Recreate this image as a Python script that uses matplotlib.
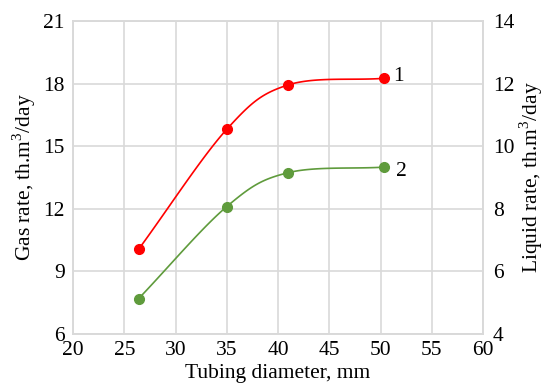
import numpy as np
import matplotlib
matplotlib.use("agg")
import matplotlib.pyplot as plt

plt.rcParams['font.family'] = ['Liberation Serif', 'DejaVu Serif']
plt.rcParams['mathtext.fontset'] = 'custom'
plt.rcParams['mathtext.rm'] = 'Liberation Serif'

# data
diameter = [26.4, 35.0, 40.95, 50.3]
gas_rate = [10.06, 15.81, 17.93, 18.25]      # curve 1, left axis
liquid_rate = [5.13, 8.07, 9.15, 9.33]       # curve 2, right axis
labels = ["1", "2"]


def smooth(x, y, n=40):
    # Catmull-Rom style smoothing, similar to Excel "smoothed line"
    x = np.asarray(x, float)
    y = np.asarray(y, float)
    px = np.concatenate([[2 * x[0] - x[1]], x, [2 * x[-1] - x[-2]]])
    py = np.concatenate([[2 * y[0] - y[1]], y, [2 * y[-1] - y[-2]]])
    xs, ys = [], []
    t = np.linspace(0, 1, n)
    for i in range(1, len(px) - 2):
        p0, p1, p2, p3 = px[i - 1], px[i], px[i + 1], px[i + 2]
        q0, q1, q2, q3 = py[i - 1], py[i], py[i + 1], py[i + 2]
        # cubic bezier control points
        c1x = p1 + (p2 - p0) / 6
        c2x = p2 - (p3 - p1) / 6
        c1y = q1 + (q2 - q0) / 6
        c2y = q2 - (q3 - q1) / 6
        bx = (1 - t) ** 3 * p1 + 3 * (1 - t) ** 2 * t * c1x + 3 * (1 - t) * t ** 2 * c2x + t ** 3 * p2
        by = (1 - t) ** 3 * q1 + 3 * (1 - t) ** 2 * t * c1y + 3 * (1 - t) * t ** 2 * c2y + t ** 3 * q2
        xs.extend(bx)
        ys.extend(by)
    return np.array(xs), np.array(ys)


fig = plt.figure(figsize=(5.47, 3.85), dpi=100)
ax = fig.add_axes([0.1335, 0.1325, 0.7495, 0.813])
ax2 = ax.twinx()

red = '#ff0000'
green = '#5f9b3c'
grid_c = '#d9d9d9'

sx, sy = smooth(diameter, gas_rate)
ax.plot(sx, sy, color=red, lw=1.2)
ax.plot(diameter, gas_rate, 'o', color=red, ms=7)

sx, sy = smooth(diameter, liquid_rate)
ax2.plot(sx, sy, color=green, lw=1.2)
ax2.plot(diameter, liquid_rate, 'o', color=green, ms=7)

ax.set_xlim(20, 60)
ax.set_ylim(6, 21)
ax2.set_ylim(4, 14)
ax.set_xticks(np.arange(20, 61, 5))
ax.set_yticks(np.arange(6, 22, 3))
ax2.set_yticks(np.arange(4, 15, 2))

ax.grid(True, color=grid_c, lw=1.2)
ax.set_axisbelow(True)
for a in (ax, ax2):
    for s in a.spines.values():
        s.set_color(grid_c)
        s.set_linewidth(1.2)
    a.tick_params(length=0, labelsize=15.5)

ax.tick_params(axis='x', pad=5)
ax.tick_params(axis='y', pad=6)
ax2.tick_params(axis='y', pad=7)

ax.set_xlabel("Tubing diameter, mm", fontsize=15.5, labelpad=3)
ax.set_ylabel("Gas rate, th.m$^3$/day", fontsize=15.5, labelpad=4)
ax2.set_ylabel("Liquid rate, th.m$^3$/day", fontsize=15.5, labelpad=2)

ax.annotate(labels[0], (diameter[-1], gas_rate[-1]), xytext=(7, 1),
            textcoords='offset points', va='center', fontsize=15.5)
ax2.annotate(labels[1], (diameter[-1], liquid_rate[-1]), xytext=(9, -3),
             textcoords='offset points', va='center', fontsize=15.5)

fig.savefig("out.png", dpi=100)
